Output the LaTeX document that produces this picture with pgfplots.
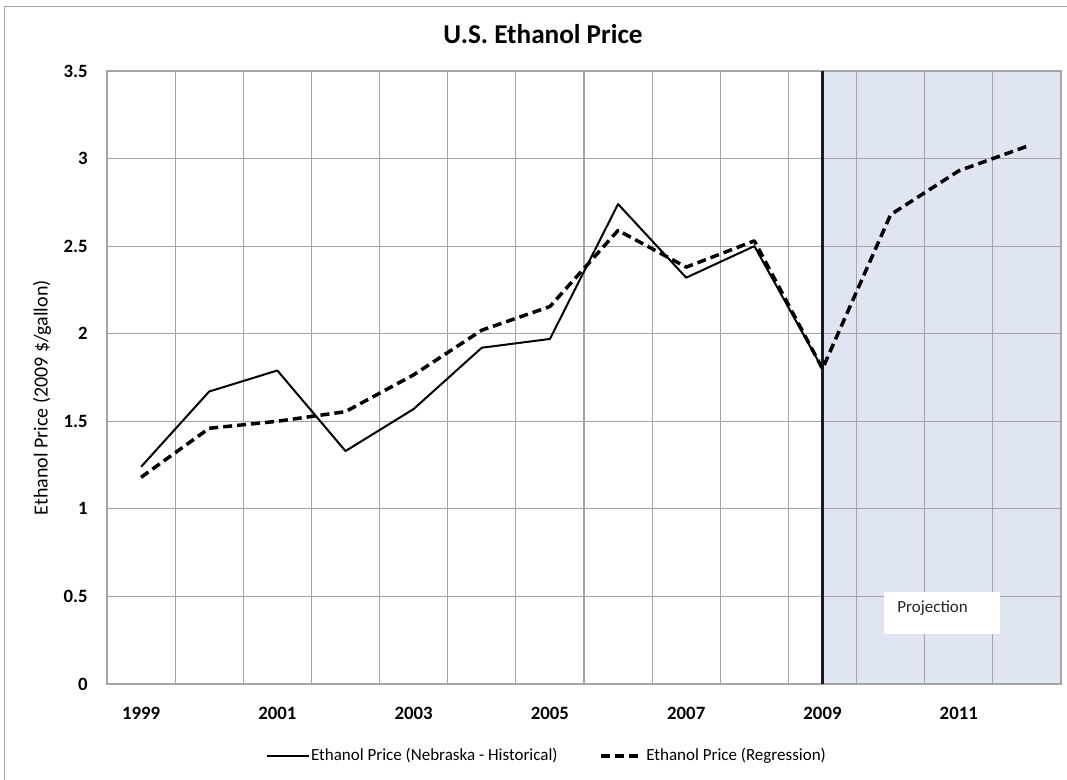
\documentclass[border=0pt]{standalone}
\usepackage{fontspec}
\setmainfont{Carlito}
\usepackage{pgfplots}
\pgfplotsset{compat=1.18}
\definecolor{gridgray}{RGB}{165,165,165}
\definecolor{shade}{RGB}{223,229,241}
\definecolor{vline}{RGB}{22,26,38}
\begin{document}
\begin{tikzpicture}
\begin{axis}[
  set layers,
  width=477pt, height=306.5pt, scale only axis,
  xmin=-0.5, xmax=13.5, ymin=0, ymax=3.5,
  xtick={0,2,4,6,8,10,12},
  xticklabels={1999,2001,2003,2005,2007,2009,2011},
  minor xtick={-0.5,0.5,1.5,2.5,3.5,4.5,5.5,6.5,7.5,8.5,9.5,10.5,11.5,12.5,13.5},
  ytick={0,0.5,1,1.5,2,2.5,3,3.5},
  xminorgrids, ymajorgrids,
  major tick length=0pt, minor tick length=0pt,
  grid style={gridgray, line width=0.6pt},
  minor grid style={gridgray, line width=0.6pt},
  axis line style={gridgray, line width=0.6pt},
  tick label style={font=\fontsize{9.4}{10}\selectfont\bfseries},
  /pgf/number format/assume math mode=true,
  xticklabel style={anchor=center, yshift=-14.5pt},
  yticklabel style={anchor=east, inner sep=0pt, xshift=-9.5pt},
  ylabel={Ethanol Price (2009 \$/gallon)},
  ylabel style={font=\fontsize{10}{11}\selectfont, at={(axis description cs:-0.068,0.467)}, anchor=center},
  title={U.S. Ethanol Price},
  title style={font=\fontsize{13.6}{15}\selectfont\bfseries, at={(axis description cs:0.457,1)}, anchor=center, yshift=12.5pt},
  legend style={at={(axis description cs:0.4607,-0.1175)}, anchor=center, draw=none, fill=none,
    font=\fontsize{8.5}{10}\selectfont, legend columns=2,
    nodes={inner sep=0.8pt},
    /tikz/every even column/.append style={column sep=20pt}},
  legend image code/.code={\draw[#1] (0pt,0pt) -- (21pt,0pt);},
]
\addplot[fill=shade, draw=none, forget plot, on layer=axis background] coordinates {(10,0) (10,3.5) (13.5,3.5) (13.5,0)} \closedcycle;
\addplot[vline, line width=1.5pt, forget plot] coordinates {(10,0) (10,3.5)};
\addplot[black, line width=1pt, line join=round] coordinates {
(0,1.24) (1,1.67) (2,1.79) (3,1.33) (4,1.57) (5,1.92) (6,1.97) (7,2.74) (8,2.32) (9,2.50) (10,1.80)};
\addlegendentry{Ethanol Price (Nebraska - Historical)}
\addplot[black, line width=1.75pt, dash pattern=on 4.5pt off 2.5pt, line join=round] coordinates {
(0,1.18) (1,1.46) (2,1.50) (3,1.555) (4,1.765) (5,2.02) (6,2.155) (7,2.59) (8,2.38) (9,2.53) (10,1.80) (11,2.68) (12,2.93) (13,3.07)};
\addlegendentry{Ethanol Price (Regression)}
\node[fill=white, minimum width=58pt, minimum height=21pt, inner sep=0pt] at (axis cs:11.754,0.405) {};
\node[anchor=west, inner sep=0pt, font=\fontsize{8.5}{10}\selectfont, text=black!85] at (axis cs:11.093,0.434) {Projection};
\end{axis}
\draw[gridgray, line width=0.5pt] (-51pt,-100pt) -- (-51pt,338.5pt) -- (500pt,338.5pt);
\pgfresetboundingbox
\path[use as bounding box] (-53.5pt,-48pt) rectangle (480pt,342pt);
\end{tikzpicture}
\end{document}
